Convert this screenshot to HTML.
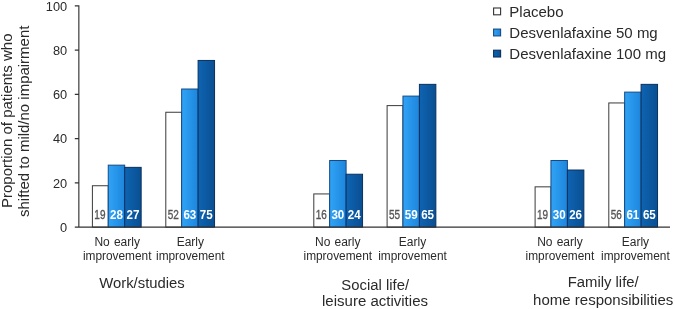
<!DOCTYPE html>
<html lang="en"><head><meta charset="utf-8"><title>Chart</title>
<style>
html,body{margin:0;padding:0;background:#fff;}
body{width:675px;height:309px;overflow:hidden;}
svg{display:block;filter:blur(0.35px);}
text{font-family:"Liberation Sans",Arial,Helvetica,sans-serif;fill:#2a2a2a;}
.tick{font-size:12.8px;text-anchor:end;}
.xl{font-size:12px;text-anchor:middle;}
.gt{font-size:14.85px;text-anchor:middle;}
.lg{font-size:15px;}
.yl{font-size:14.2px;}
.bl{font-size:13px;text-anchor:middle;fill:#555;}
.blw{font-size:13px;text-anchor:middle;font-weight:bold;fill:#fff;}
</style></head><body>
<svg width="675" height="309" viewBox="0 0 675 309">
<defs>
<linearGradient id="gl" x1="0" x2="1" y1="0" y2="0"><stop offset="0" stop-color="#30a4f6"/><stop offset="1" stop-color="#1d85dc"/></linearGradient>
<linearGradient id="gd" x1="0" x2="1" y1="0" y2="0"><stop offset="0" stop-color="#0e64b2"/><stop offset="1" stop-color="#0a4f92"/></linearGradient>
</defs>
<rect width="675" height="309" fill="#fff"/>

<rect x="92.40" y="185.74" width="15.85" height="41.41" fill="#fff" stroke="#3a3a3a" stroke-width="1"/>
<rect x="108.25" y="165.15" width="16.45" height="62.00" fill="url(#gl)" stroke="#164a85" stroke-width="1"/>
<rect x="124.70" y="167.36" width="16.45" height="59.79" fill="url(#gd)" stroke="#0a305e" stroke-width="1"/>
<text class="bl" x="99.92" y="218.9" stroke="#555" stroke-width="0.35" textLength="11.1" lengthAdjust="spacingAndGlyphs">19</text>
<text class="blw" x="116.47" y="218.7" textLength="12.9" lengthAdjust="spacingAndGlyphs">28</text>
<text class="blw" x="132.92" y="218.7" textLength="12.9" lengthAdjust="spacingAndGlyphs">27</text>
<rect x="165.80" y="112.25" width="15.85" height="114.90" fill="#fff" stroke="#3a3a3a" stroke-width="1"/>
<rect x="181.65" y="89.01" width="16.45" height="138.14" fill="url(#gl)" stroke="#164a85" stroke-width="1"/>
<rect x="198.10" y="60.45" width="16.45" height="166.70" fill="url(#gd)" stroke="#0a305e" stroke-width="1"/>
<text class="bl" x="173.32" y="218.9" stroke="#555" stroke-width="0.35" textLength="11.1" lengthAdjust="spacingAndGlyphs">52</text>
<text class="blw" x="189.87" y="218.7" textLength="12.9" lengthAdjust="spacingAndGlyphs">63</text>
<text class="blw" x="206.32" y="218.7" textLength="12.9" lengthAdjust="spacingAndGlyphs">75</text>
<rect x="313.80" y="193.93" width="15.85" height="33.22" fill="#fff" stroke="#3a3a3a" stroke-width="1"/>
<rect x="329.65" y="160.50" width="16.45" height="66.65" fill="url(#gl)" stroke="#164a85" stroke-width="1"/>
<rect x="346.10" y="174.23" width="16.45" height="52.92" fill="url(#gd)" stroke="#0a305e" stroke-width="1"/>
<text class="bl" x="321.32" y="218.9" stroke="#555" stroke-width="0.35" textLength="11.1" lengthAdjust="spacingAndGlyphs">16</text>
<text class="blw" x="337.88" y="218.7" textLength="12.9" lengthAdjust="spacingAndGlyphs">30</text>
<text class="blw" x="354.32" y="218.7" textLength="12.9" lengthAdjust="spacingAndGlyphs">24</text>
<rect x="387.10" y="105.61" width="15.85" height="121.54" fill="#fff" stroke="#3a3a3a" stroke-width="1"/>
<rect x="402.95" y="96.09" width="16.45" height="131.06" fill="url(#gl)" stroke="#164a85" stroke-width="1"/>
<rect x="419.40" y="84.36" width="16.45" height="142.79" fill="url(#gd)" stroke="#0a305e" stroke-width="1"/>
<text class="bl" x="394.62" y="218.9" stroke="#555" stroke-width="0.35" textLength="11.1" lengthAdjust="spacingAndGlyphs">55</text>
<text class="blw" x="411.18" y="218.7" textLength="12.9" lengthAdjust="spacingAndGlyphs">59</text>
<text class="blw" x="427.62" y="218.7" textLength="12.9" lengthAdjust="spacingAndGlyphs">65</text>
<rect x="535.10" y="186.84" width="15.85" height="40.31" fill="#fff" stroke="#3a3a3a" stroke-width="1"/>
<rect x="550.95" y="160.50" width="16.45" height="66.65" fill="url(#gl)" stroke="#164a85" stroke-width="1"/>
<rect x="567.40" y="170.02" width="16.45" height="57.13" fill="url(#gd)" stroke="#0a305e" stroke-width="1"/>
<text class="bl" x="542.62" y="218.9" stroke="#555" stroke-width="0.35" textLength="11.1" lengthAdjust="spacingAndGlyphs">19</text>
<text class="blw" x="559.18" y="218.7" textLength="12.9" lengthAdjust="spacingAndGlyphs">30</text>
<text class="blw" x="575.62" y="218.7" textLength="12.9" lengthAdjust="spacingAndGlyphs">26</text>
<rect x="608.80" y="102.95" width="15.85" height="124.20" fill="#fff" stroke="#3a3a3a" stroke-width="1"/>
<rect x="624.65" y="92.11" width="16.45" height="135.04" fill="url(#gl)" stroke="#164a85" stroke-width="1"/>
<rect x="641.10" y="84.36" width="16.45" height="142.79" fill="url(#gd)" stroke="#0a305e" stroke-width="1"/>
<text class="bl" x="616.33" y="218.9" stroke="#555" stroke-width="0.35" textLength="11.1" lengthAdjust="spacingAndGlyphs">56</text>
<text class="blw" x="632.88" y="218.7" textLength="12.9" lengthAdjust="spacingAndGlyphs">61</text>
<text class="blw" x="649.33" y="218.7" textLength="12.9" lengthAdjust="spacingAndGlyphs">65</text>
<path d="M74.8 5.80H78.85V227.15M74.8 50.07H78.85M74.8 94.34H78.85M74.8 138.61H78.85M74.8 182.88H78.85M74.8 227.15H670" fill="none" stroke="#333" stroke-width="1.15"/>
<text class="tick" x="67.2" y="231.8">0</text>
<text class="tick" x="67.2" y="187.6">20</text>
<text class="tick" x="67.2" y="143.3">40</text>
<text class="tick" x="67.2" y="99.0">60</text>
<text class="tick" x="67.2" y="54.8">80</text>
<text class="tick" x="67.2" y="10.5">100</text>
<text class="xl" x="117.2" y="245.65" word-spacing="0.8">No early</text>
<text class="xl" x="117.2" y="260" textLength="68.6" lengthAdjust="spacingAndGlyphs">improvement</text>
<text class="xl" x="190.3" y="245.65">Early</text>
<text class="xl" x="190.3" y="260" textLength="68.6" lengthAdjust="spacingAndGlyphs">improvement</text>
<text class="xl" x="337.8" y="245.65" word-spacing="0.8">No early</text>
<text class="xl" x="337.8" y="260" textLength="68.6" lengthAdjust="spacingAndGlyphs">improvement</text>
<text class="xl" x="412.5" y="245.65">Early</text>
<text class="xl" x="412.5" y="260" textLength="68.6" lengthAdjust="spacingAndGlyphs">improvement</text>
<text class="xl" x="559.9" y="245.65" word-spacing="0.8">No early</text>
<text class="xl" x="559.9" y="260" textLength="68.6" lengthAdjust="spacingAndGlyphs">improvement</text>
<text class="xl" x="635.4" y="245.65">Early</text>
<text class="xl" x="635.4" y="260" textLength="68.6" lengthAdjust="spacingAndGlyphs">improvement</text>
<text class="gt" x="142" y="288.2">Work/studies</text>
<text class="gt" x="375.2" y="289.7">Social life/</text>
<text class="gt" style="text-anchor:start" x="322.0" y="306.3" textLength="106" lengthAdjust="spacingAndGlyphs">leisure activities</text>
<text class="gt" x="603.2" y="287.3">Family life/</text>
<text class="gt" style="text-anchor:start" x="533.05" y="304.5" textLength="140.25" lengthAdjust="spacingAndGlyphs">home responsibilities</text>
<rect x="493.6" y="8.0" width="7.0" height="6.8" fill="#fff" stroke="#333" stroke-width="1.1"/>
<text class="lg" x="509.3" y="16.5">Placebo</text>
<rect x="493.6" y="29.1" width="7.0" height="6.8" fill="url(#gl)" stroke="#164a85" stroke-width="1.1"/>
<text class="lg" x="509.3" y="37.6">Desvenlafaxine 50 mg</text>
<rect x="493.6" y="50.2" width="7.0" height="6.8" fill="url(#gd)" stroke="#0a305e" stroke-width="1.1"/>
<text class="lg" x="509.3" y="58.8">Desvenlafaxine 100 mg</text>
<text class="yl" transform="translate(12.2 208) rotate(-90)" textLength="174.5" lengthAdjust="spacingAndGlyphs">Proportion of patients who</text>
<text class="yl" transform="translate(29.3 217) rotate(-90)" textLength="191.4" lengthAdjust="spacingAndGlyphs">shifted to mild/no impairment</text>
</svg></body></html>
